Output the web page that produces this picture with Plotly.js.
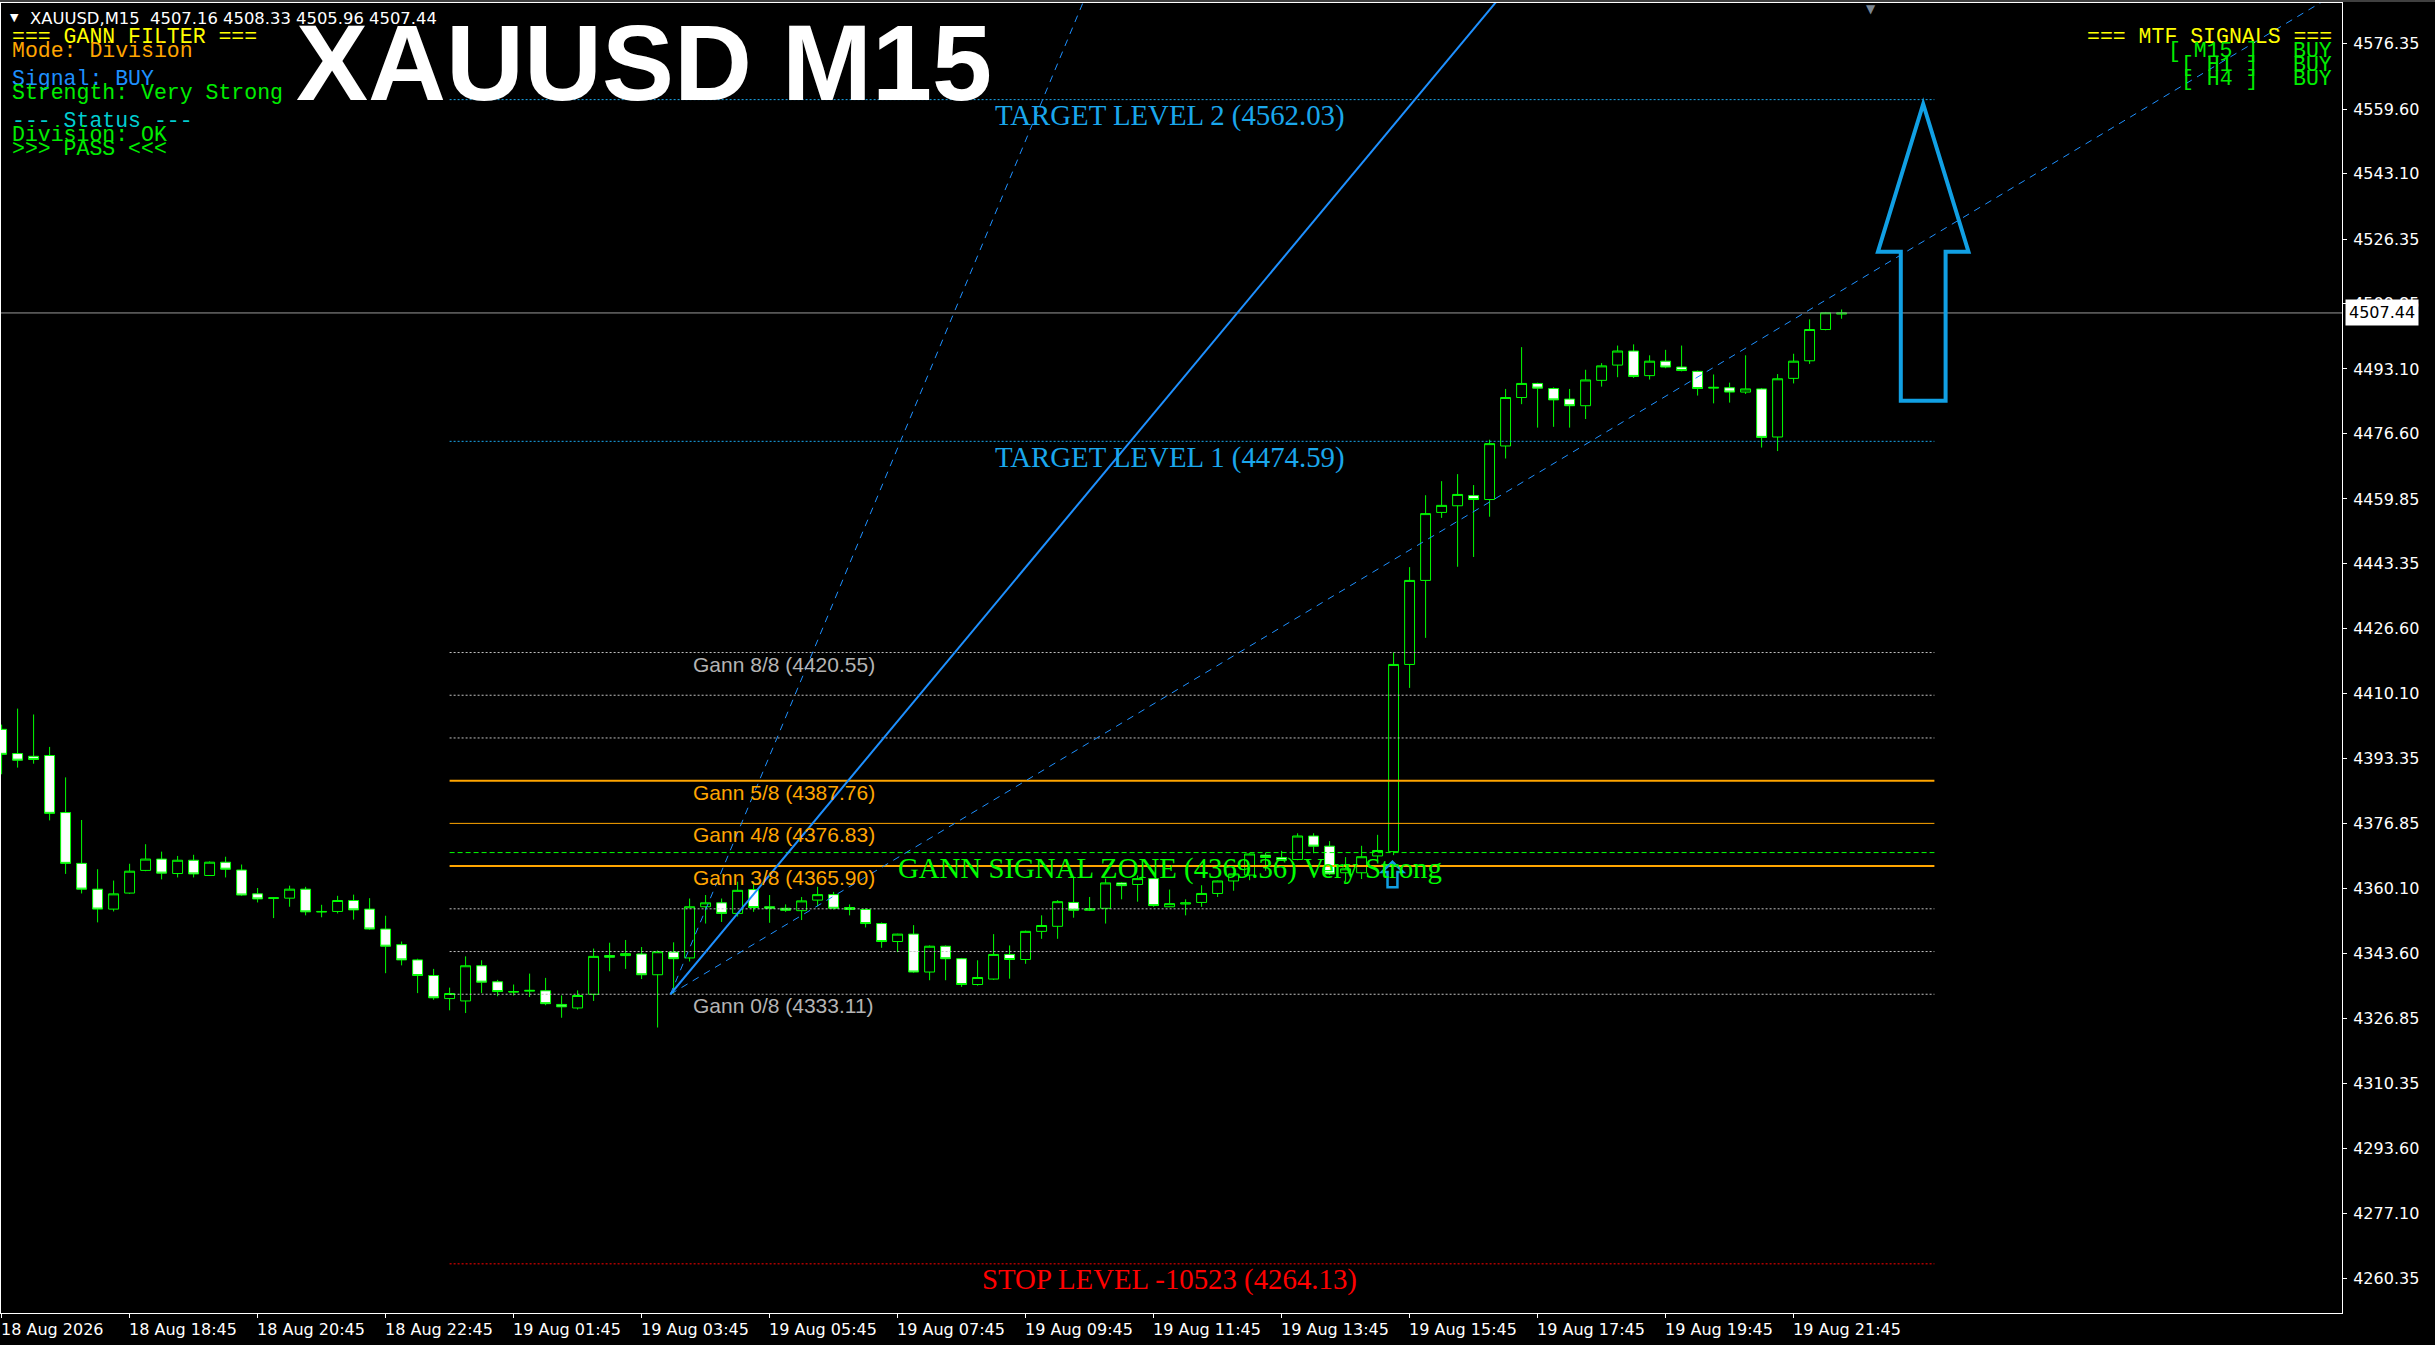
<!DOCTYPE html>
<html><head><meta charset="utf-8">
<script src="https://cdn.plot.ly/plotly-3.0.1.min.js"></script>
<style>html,body{margin:0;padding:0;background:#000;overflow:hidden}#chart{width:2435px;height:1345px}</style>
</head><body><div id="chart"></div>
<script>
// ---------- DATA ----------
const opens = [4400.9,4394.7,4394.0,4394.2,4379.6,4366.6,4360.0,4354.9,4359.0,4364.8,
4367.7,4364.0,4367.4,4363.5,4366.9,4364.9,4358.8,4357.6,4357.7,4360.0,
4354.3,4354.3,4357.1,4354.9,4349.8,4345.8,4341.9,4337.9,4332.0,4331.4,
4340.4,4336.3,4333.8,4333.9,4334.0,4330.5,4329.6,4333.1,4343.0,4343.0,
4343.4,4338.1,4343.9,4342.4,4355.5,4356.5,4353.8,4359.9,4355.5,4355.1,
4354.5,4357.2,4358.6,4355.3,4354.8,4351.2,4346.6,4348.5,4338.8,4345.4,
4342.2,4335.6,4337.0,4343.3,4342.0,4349.2,4350.5,4356.6,4354.6,4355.1,
4361.6,4361.2,4362.7,4355.5,4356.2,4356.6,4358.9,4362.1,4363.6,4368.7,
4368.1,4367.6,4373.6,4371.0,4364.2,4364.2,4368.5,4369.6,4417.5,4439.0,
4456.4,4458.1,4460.7,4459.7,4473.4,4485.8,4489.4,4488.1,4485.4,4483.7,
4490.2,4494.1,4497.7,4491.4,4495.1,4493.6,4492.5,4488.2,4488.3,4487.2,
4488.0,4475.7,4490.7,4495.2,4503.2,4507.16];
const highs = [4402.1,4406.2,4404.7,4396.4,4388.6,4377.7,4365.1,4362.2,4366.5,4371.5,
4369.6,4368.5,4368.8,4367.1,4368.3,4366.3,4360.3,4357.9,4360.9,4360.6,
4356.0,4358.3,4358.6,4357.7,4353.2,4346.6,4342.2,4339.6,4334.8,4342.8,
4341.8,4336.8,4335.6,4338.4,4337.3,4332.8,4334.1,4344.8,4346.3,4347.0,
4345.2,4344.3,4346.4,4357.6,4358.5,4357.6,4361.9,4361.9,4358.5,4356.1,
4358.0,4360.6,4359.3,4356.1,4355.1,4351.5,4348.6,4350.8,4345.6,4345.6,
4342.4,4341.8,4348.5,4345.6,4349.4,4353.3,4357.2,4363.2,4358.0,4362.7,
4361.8,4363.5,4362.8,4359.9,4357.4,4361.0,4362.2,4364.2,4369.2,4369.3,
4369.8,4374.3,4374.3,4372.3,4368.2,4371.1,4373.9,4420.6,4442.4,4460.8,
4464.4,4466.2,4463.4,4475.0,4488.0,4498.7,4489.6,4488.4,4488.0,4492.9,
4494.6,4499.1,4499.4,4496.6,4498.0,4499.1,4492.7,4491.7,4489.6,4496.6,
4488.2,4491.8,4497.0,4505.8,4507.7,4508.33];
const lows = [4389.4,4391.1,4392.1,4377.6,4363.9,4358.9,4351.5,4354.3,4358.8,4364.6,
4362.5,4363.0,4363.0,4363.4,4363.0,4358.3,4356.6,4352.6,4355.5,4353.3,
4352.8,4353.8,4352.2,4349.6,4338.5,4340.5,4333.4,4331.7,4329.0,4328.3,
4333.4,4332.6,4332.8,4332.4,4330.3,4327.1,4329.2,4331.4,4339.0,4339.6,
4337.0,4324.6,4333.3,4341.5,4351.2,4351.6,4353.0,4354.2,4351.4,4354.2,
4352.1,4355.6,4354.8,4353.3,4350.2,4345.0,4343.9,4338.6,4336.7,4336.7,
4335.0,4335.3,4336.8,4337.1,4340.9,4347.3,4347.3,4352.7,4354.4,4351.2,
4357.4,4356.8,4355.5,4355.4,4353.3,4355.5,4358.0,4359.6,4362.3,4364.7,
4367.2,4367.4,4369.2,4363.6,4361.9,4362.6,4367.0,4368.7,4411.5,4424.3,
4455.0,4442.5,4445.0,4455.3,4470.2,4484.1,4478.1,4478.3,4478.1,4480.3,
4488.6,4491.0,4490.8,4490.4,4493.3,4492.5,4486.3,4484.3,4484.5,4486.7,
4473.0,4472.1,4489.4,4494.4,4503.0,4505.96];
const closes = [4394.5,4393.0,4393.2,4379.4,4366.6,4360.0,4354.9,4358.8,4364.6,4367.7,
4364.1,4367.4,4363.9,4366.9,4365.1,4358.5,4357.5,4357.8,4360.0,4354.2,
4354.2,4357.1,4354.7,4349.8,4345.4,4341.9,4337.9,4332.2,4333.3,4340.4,
4336.2,4333.8,4333.7,4334.1,4330.7,4329.9,4332.8,4342.8,4342.6,4343.5,
4338.1,4344.0,4342.2,4355.5,4356.5,4353.8,4359.7,4355.3,4355.1,4354.6,
4357.0,4358.6,4355.1,4354.8,4351.2,4346.6,4348.5,4338.8,4345.4,4342.2,
4335.6,4337.4,4343.3,4342.0,4349.2,4350.7,4356.8,4354.6,4355.0,4361.6,
4360.9,4362.7,4355.8,4356.3,4356.5,4358.9,4362.1,4363.9,4369.0,4368.1,
4367.4,4373.6,4371.0,4363.9,4365.2,4368.3,4369.9,4417.5,4439.0,4456.1,
4458.2,4461.0,4459.7,4474.0,4485.8,4489.4,4488.2,4485.2,4483.7,4490.3,
4493.9,4497.7,4491.2,4495.1,4493.6,4492.7,4488.1,4488.4,4487.2,4488.0,
4475.6,4490.6,4495.1,4503.2,4507.5,4507.44];

const tickBars = [0,8,16,24,32,40,48,56,64,72,80,88,96,104,112];
const tickLabels = ["18 Aug 2026","18 Aug 18:45","18 Aug 20:45","18 Aug 22:45","19 Aug 01:45",
"19 Aug 03:45","19 Aug 05:45","19 Aug 07:45","19 Aug 09:45","19 Aug 11:45","19 Aug 13:45",
"19 Aug 15:45","19 Aug 17:45","19 Aug 19:45","19 Aug 21:45"];
const yTicks = [4576.35,4559.60,4543.10,4526.35,4509.85,4493.10,4476.60,4459.85,4443.35,4426.60,
4410.10,4393.35,4376.85,4360.10,4343.60,4326.85,4310.35,4293.60,4277.10,4260.35];

const gannNames = ["0/8","1/8","2/8","3/8","4/8","5/8","6/8","7/8","8/8"];
const gannValues = [4333.11,4344.04,4354.97,4365.90,4376.83,4387.76,4398.69,4409.62,4420.55];
const gannLabelled = ["0/8","3/8","4/8","5/8","8/8"];
const signalZone = 4369.36;
const signalStrength = "Very Strong";
const target1 = 4474.59, target2 = 4562.03;
const stopLevel = 4264.13, stopPoints = -10523;
const symbolName = "XAUUSD", timeframe = "M15";
const lastO = 4507.16, lastH = 4508.33, lastL = 4505.96, lastC = 4507.44;
const fanOriginBar = 41.8, fanOriginPrice = 4333.11, fanUnit = 4.92;
const fanRatios = [2, 1, 0.5];

const panelLines = ["=== GANN FILTER ===","Mode: Division","Signal: BUY","Strength: Very Strong",
"--- Status ---","Division: OK",">>> PASS <<<"];
const mtfTitle = "=== MTF SIGNALS ===";
const mtfFrames = ["[ M15 ]","[ H1 ]","[ H4 ]"];
const mtfSignals = ["BUY","BUY","BUY"];

// ---------- STYLE / LAYOUT CONSTANTS ----------
const W = 2435, H = 1345;
const PL = 1, PR = 2342, PT = 3, PB = 1313;
const X0 = -0.0375, X1 = 146.275;
const Y0 = 4251.55, Y1 = 4586.75;
const LIME = '#00FF00', ORANGE = '#FFA500', SILVER = '#C0C0C0', SKY = '#1AA7EC', FAN = '#1E90FF';
const MONO = 'Liberation Mono, Courier New, monospace';
const SANS = 'DejaVu Sans, Verdana, sans-serif';
const ARIAL = 'Liberation Sans, Arial, sans-serif';
const SERIF = 'Liberation Serif, Times New Roman, serif';
const levelStart = 28, levelEnd = 120.8, textCenterBar = 73, gannLabelBar = 43.1;

const bars = opens.map((_, i) => i);
const traces = [];

traces.push({
  type: 'candlestick', x: bars, open: opens, high: highs, low: lows, close: closes,
  increasing: {line: {color: LIME, width: 1}, fillcolor: '#000000'},
  decreasing: {line: {color: LIME, width: 1}, fillcolor: '#FFFFFF'},
  whiskerwidth: 0, hoverinfo: 'skip', showlegend: false
});

function hline(y, color, width, dash, x0, x1) {
  traces.push({type: 'scatter', mode: 'lines', x: [x0, x1], y: [y, y],
    line: {color: color, width: width, dash: dash}, hoverinfo: 'skip', showlegend: false});
}
// Gann levels
gannNames.forEach((n, k) => {
  let st;
  if (n === '3/8' || n === '5/8') st = [ORANGE, 2, 'solid'];
  else if (n === '4/8') st = [ORANGE, 1, 'solid'];
  else st = [SILVER, 1, '2px,2px'];
  hline(gannValues[k], st[0], st[1], st[2], levelStart, levelEnd);
});
hline(signalZone, LIME, 1, '5px,3px', levelStart, levelEnd);
hline(target1, SKY, 1, '2px,2px', levelStart, levelEnd);
hline(target2, SKY, 1, '2px,2px', levelStart, levelEnd);
hline(stopLevel, '#FF0000', 1, '2px,2px', levelStart, levelEnd);
hline(lastC, '#9A9A9A', 1, 'solid', X0 - 5, X1 + 5);

// Gann fan
const fanEnd = 160;
fanRatios.forEach(r => {
  traces.push({type: 'scatter', mode: 'lines',
    x: [fanOriginBar, fanEnd],
    y: [fanOriginPrice, fanOriginPrice + r * fanUnit * (fanEnd - fanOriginBar)],
    line: {color: FAN, width: r === 1 ? 2 : 1, dash: r === 1 ? 'solid' : '7px,6px'},
    hoverinfo: 'skip', showlegend: false});
});

// ---------- ANNOTATIONS ----------
const ann = [];
function pxA(text, X, Y, font, anchor, extra) {
  return Object.assign({xref: 'paper', yref: 'paper', x: 0, y: 1, xshift: X - PL, yshift: -(Y - PT),
    xanchor: anchor || 'left', yanchor: 'middle', text: text, showarrow: false, font: font}, extra || {});
}
// Gann labels
gannNames.forEach((n, k) => {
  if (!gannLabelled.includes(n)) return;
  const isOrange = (n === '3/8' || n === '4/8' || n === '5/8');
  ann.push({xref: 'x', yref: 'y', x: gannLabelBar, y: gannValues[k], xanchor: 'left', yanchor: 'top', yshift: 2,
    text: 'Gann ' + n + ' (' + gannValues[k].toFixed(2) + ')', showarrow: false,
    font: {family: ARIAL, size: 21, color: isOrange ? ORANGE : '#B4B4B4'}});
});
function levelText(text, y, color) {
  ann.push({xref: 'x', yref: 'y', x: textCenterBar, y: y, xanchor: 'center', yanchor: 'top', yshift: 2.5,
    text: text, showarrow: false, font: {family: SERIF, size: 28.8, color: color}});
}
levelText('TARGET LEVEL 2 (' + target2.toFixed(2) + ')', target2, SKY);
levelText('TARGET LEVEL 1 (' + target1.toFixed(2) + ')', target1, SKY);
levelText('GANN SIGNAL ZONE (' + signalZone.toFixed(2) + ') ' + signalStrength, signalZone, LIME);
levelText('STOP LEVEL ' + stopPoints + ' (' + stopLevel.toFixed(2) + ')', stopLevel, '#FF0000');

// x labels
tickBars.forEach((b, i) => {
  ann.push({xref: 'x', yref: 'paper', x: b, y: 0, xanchor: 'left', yanchor: 'top', xshift: -3, yshift: -5,
    text: tickLabels[i], showarrow: false, font: {family: SANS, size: 16, color: '#FFFFFF'}});
});
// price box on the price axis
ann.push({xref: 'paper', yref: 'y', x: 0, y: lastC, xanchor: 'left', yanchor: 'middle', xshift: 2345 - PL,
  text: lastC.toFixed(2), showarrow: false, bgcolor: '#FFFFFF', borderpad: 3,
  font: {family: SANS, size: 16, color: '#000000'}});

// header
ann.push(pxA('▼', 14.5, 17, {family: SANS, size: 11, color: '#FFFFFF'}, 'center'));
ann.push(pxA(symbolName + ',' + timeframe + '\u00A0\u00A0' + [lastO, lastH, lastL, lastC].map(v => v.toFixed(2)).join(' '),
  28, 18.5, {family: SANS, size: 16.4, color: '#FFFFFF'}));
ann.push(pxA(symbolName + ' ' + timeframe, 644, 62, {family: ARIAL, size: 108, color: '#FFFFFF', weight: 'bold'}, 'center'));

// left panel
const panelColors = ['#FFFF00', ORANGE, '#1E90FF', '#00EE00', '#00CED1', '#00EE00', '#00EE00'];
const panelY = [37, 51, 79, 93, 121, 135, 149];
panelLines.forEach((t, i) => ann.push(pxA(t, 10, panelY[i], {family: MONO, size: 21.5, color: panelColors[i]})));

// MTF panel
ann.push(pxA(mtfTitle, 2334, 37, {family: MONO, size: 21.5, color: '#FFFF00'}, 'right'));
const mtfY = [51, 65, 79];
mtfFrames.forEach((t, i) => {
  ann.push(pxA(t, 2260, mtfY[i], {family: MONO, size: 21.5, color: '#00EE00'}, 'right'));
  ann.push(pxA(mtfSignals[i], 2334, mtfY[i], {family: MONO, size: 21.5, color: '#00EE00'}, 'right'));
});
// chart shift marker
ann.push(pxA('▼', 1871, 9, {family: SANS, size: 12, color: '#7B8794'}, 'center'));

// ---------- SHAPES ----------
const shapes = [];
const ar = {bar: 120.1, tip: 4560.9, headHalf: 2.83, shaftHalf: 1.4, base: 4523.1, bottom: 4485.0};
const arrowPath = 'M' + ar.bar + ',' + ar.tip +
  ' L' + (ar.bar + ar.headHalf) + ',' + ar.base + ' L' + (ar.bar + ar.shaftHalf) + ',' + ar.base +
  ' L' + (ar.bar + ar.shaftHalf) + ',' + ar.bottom + ' L' + (ar.bar - ar.shaftHalf) + ',' + ar.bottom +
  ' L' + (ar.bar - ar.shaftHalf) + ',' + ar.base + ' L' + (ar.bar - ar.headHalf) + ',' + ar.base + ' Z';
shapes.push({type: 'path', xref: 'x', yref: 'y', path: arrowPath, line: {color: '#11A0E4', width: 4}, fillcolor: 'rgba(0,0,0,0)'});
const sb = {bar: 86.93, tip: 4367.0, headHalf: 0.66, shaftHalf: 0.31, base: 4364.4, bottom: 4360.5};
const smallPath = 'M' + sb.bar + ',' + sb.tip +
  ' L' + (sb.bar + sb.headHalf) + ',' + sb.base + ' L' + (sb.bar + sb.shaftHalf) + ',' + sb.base +
  ' L' + (sb.bar + sb.shaftHalf) + ',' + sb.bottom + ' L' + (sb.bar - sb.shaftHalf) + ',' + sb.bottom +
  ' L' + (sb.bar - sb.shaftHalf) + ',' + sb.base + ' L' + (sb.bar - sb.headHalf) + ',' + sb.base + ' Z';
shapes.push({type: 'path', xref: 'x', yref: 'y', path: smallPath, line: {color: '#11A0E4', width: 2.5}, fillcolor: 'rgba(0,0,0,0)'});
shapes.push({type: 'line', xref: 'paper', yref: 'paper', x0: -1 / 2341, x1: (W - 1) / 2341,
  y0: 1 + 2 / 1310, y1: 1 + 2 / 1310, line: {color: '#808080', width: 1}});

const layout = {
  width: W, height: H,
  margin: {l: PL, r: W - PR, t: PT, b: H - PB, pad: 0, autoexpand: false},
  paper_bgcolor: '#000000', plot_bgcolor: '#000000',
  showlegend: false, dragmode: false, hovermode: false,
  boxgap: 0.38, boxgroupgap: 0,
  xaxis: {type: 'linear', range: [X0, X1], showgrid: false, zeroline: false,
    tickmode: 'array', tickvals: tickBars, showticklabels: false,
    ticks: 'outside', ticklen: 4, tickcolor: '#FFFFFF', tickwidth: 1,
    showline: true, linecolor: '#FFFFFF', linewidth: 1, mirror: true,
    rangeslider: {visible: false}, fixedrange: true, automargin: false},
  yaxis: {side: 'right', range: [Y0, Y1], showgrid: false, zeroline: false,
    tickmode: 'array', tickvals: yTicks, ticktext: yTicks.map(v => v.toFixed(2)),
    ticks: 'outside', ticklen: 4, tickcolor: '#FFFFFF', tickwidth: 1, ticklabelstandoff: 3,
    tickfont: {family: SANS, size: 16, color: '#FFFFFF'},
    showline: true, linecolor: '#FFFFFF', linewidth: 1, mirror: true, fixedrange: true, automargin: false},
  annotations: ann, shapes: shapes
};

Plotly.newPlot('chart', traces, layout, {staticPlot: true, displayModeBar: false});
</script></body></html>
